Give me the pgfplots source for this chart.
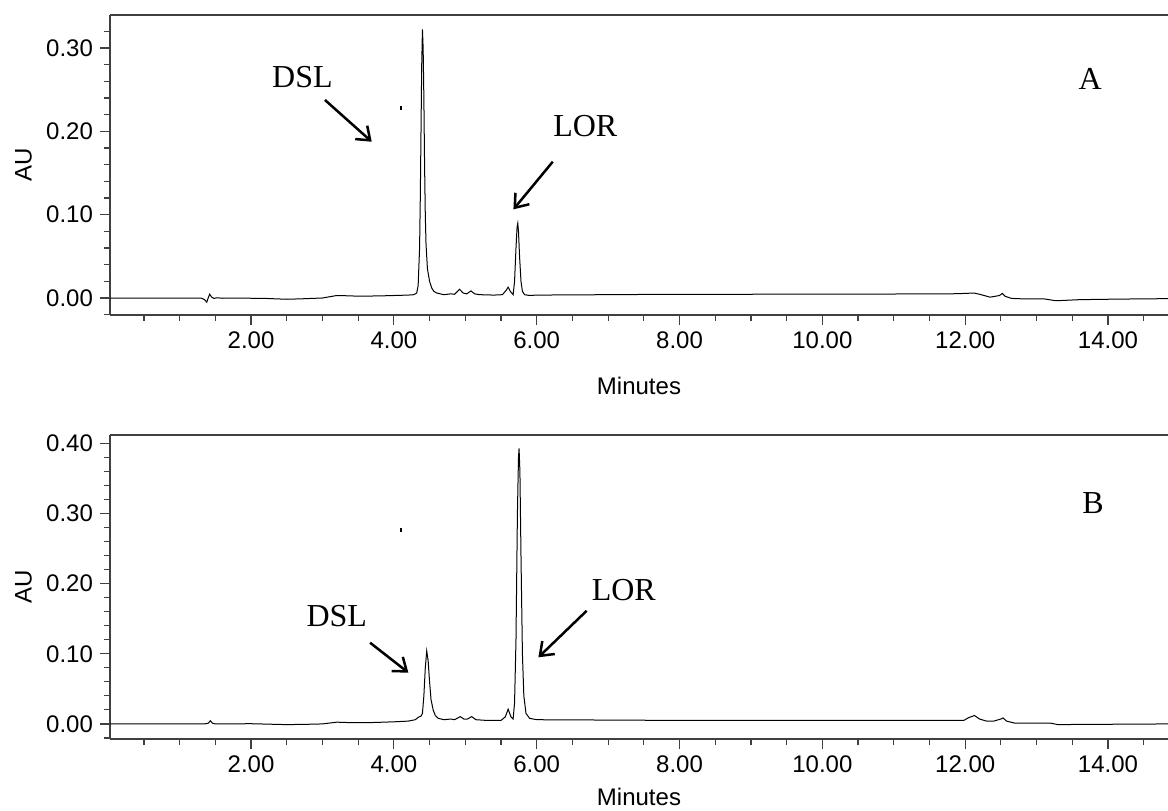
\documentclass[border=0pt]{standalone}
\usepackage{fontspec}
\setmainfont{Liberation Serif}
\newfontfamily\arial{Liberation Sans}
\usepackage{pgfplots}
\pgfplotsset{compat=1.18}
\usetikzlibrary{arrows.meta}

\pgfplotsset{
  chrom/.style={
    scale only axis,
    width=529pt,
    axis x line*=box,
    axis y line*=left,
    xtick pos=bottom,
    ytick pos=left,
    tick align=outside,
    major tick length=5pt,
    minor tick length=3pt,
    every tick/.style={black!75, line width=0.6pt},
    every minor tick/.style={black!75, line width=0.6pt},
    axis line style={black!75, line width=0.6pt},
    xmin=0.025, xmax=14.84,
    xtick={2,4,6,8,10,12,14},
    minor xtick={0.5,1,1.5,2.5,3,3.5,4.5,5,5.5,6.5,7,7.5,8.5,9,9.5,10.5,11,11.5,12.5,13,13.5,14.5},
    scaled y ticks=false,
    scaled x ticks=false,
    /pgf/number format/assume math mode=true,
    ticklabel style={font=\arial\fontsize{12}{14}\selectfont},
    xticklabel style={/pgf/number format/.cd, fixed, fixed zerofill, precision=2},
    yticklabel style={/pgf/number format/.cd, fixed, fixed zerofill, precision=2},
    label style={font=\arial\fontsize{12}{14}\selectfont},
    ylabel={AU},
    xlabel={Minutes},
    ylabel style={at={(axis description cs:-0.0818,0.5)}, anchor=center, rotate=0},
    clip=true,
  },
}

\begin{document}
\begin{tikzpicture}
\path[use as bounding box] (0,0) rectangle (584pt,405pt);

% ---------------- Panel A ----------------
\begin{axis}[chrom,
  at={(55pt,247.5pt)}, anchor=south west,
  height=150pt,
  ymin=-0.0204, ymax=0.3397,
  ytick={0,0.1,0.2,0.3},
  minor ytick={-0.02,0.02,0.04,0.06,0.08,0.12,0.14,0.16,0.18,0.22,0.24,0.26,0.28,0.32,0.34},
  xlabel style={at={(axis description cs:0.5,-0.2367)}, anchor=center},
]
\addplot[black, line width=0.5pt] coordinates {
(0.02,0.000) (1.30,0.000) (1.35,-0.002) (1.38,-0.005) (1.40,0.000) (1.42,0.0045)
(1.45,0.001) (1.48,-0.0005) (1.52,0.0003) (1.6,-0.0003) (1.8,0.000) (2.0,-0.0003)
(2.2,-0.0005) (2.5,-0.0015) (2.7,-0.001) (3.0,0.000) (3.1,0.0015) (3.2,0.003)
(3.3,0.0028) (3.5,0.0022) (3.8,0.0025) (4.0,0.003) (4.2,0.0035) (4.28,0.004)
(4.32,0.006) (4.34,0.015) (4.36,0.06) (4.37,0.12) (4.38,0.20) (4.39,0.28)
(4.40,0.3225) (4.41,0.30) (4.42,0.24) (4.43,0.16) (4.44,0.10) (4.45,0.065)
(4.47,0.035) (4.50,0.020) (4.53,0.012) (4.56,0.008) (4.60,0.006) (4.70,0.004)
(4.80,0.005) (4.85,0.0045) (4.92,0.0105) (4.97,0.006) (5.02,0.005) (5.08,0.0085)
(5.13,0.005) (5.2,0.004) (5.4,0.0035) (5.52,0.004) (5.57,0.009) (5.60,0.013)
(5.63,0.008) (5.67,0.004) (5.69,0.02) (5.71,0.06) (5.725,0.085) (5.735,0.0897)
(5.745,0.08) (5.76,0.05) (5.78,0.02) (5.80,0.008) (5.83,0.004) (5.9,0.003)
(6.0,0.0035) (7.0,0.004) (8.0,0.0045) (9.0,0.0045) (10.0,0.0048) (11.0,0.0048)
(11.8,0.005) (12.0,0.0055) (12.12,0.006) (12.2,0.0045) (12.35,0.001) (12.48,0.003)
(12.52,0.0055) (12.56,0.002) (12.65,-0.0005) (12.8,-0.001) (13.1,-0.001) (13.25,-0.003)
(13.35,-0.003) (13.6,-0.002) (14.0,-0.0015) (14.5,-0.001) (14.85,-0.0008)
};
\node[font=\fontsize{16}{18}\selectfont, anchor=base] at (axis cs:2.72,0.253) {DSL};
\draw[line width=1.25pt, -{Straight Barb[length=6pt,width=9pt]}] (axis cs:3.035,0.2377) -- (axis cs:3.69,0.1876);
\node[font=\fontsize{16}{18}\selectfont, anchor=base] at (axis cs:6.68,0.1936) {LOR};
\draw[line width=1.25pt, -{Straight Barb[length=6pt,width=9pt]}] (axis cs:6.225,0.1636) -- (axis cs:5.674,0.1064);
\node[font=\fontsize{16}{18}\selectfont, anchor=base] at (axis cs:13.75,0.25) {A};
\draw[line width=0.6pt] (axis cs:4.10,0.2305) -- (axis cs:4.10,0.2257);
\end{axis}

% ---------------- Panel B ----------------
\begin{axis}[chrom,
  at={(55pt,35.5pt)}, anchor=south west,
  height=152pt,
  ymin=-0.0215, ymax=0.412,
  ytick={0,0.1,0.2,0.3,0.4},
  minor ytick={-0.02,0.02,0.04,0.06,0.08,0.12,0.14,0.16,0.18,0.22,0.24,0.26,0.28,0.32,0.34,0.36,0.38},
  xlabel style={at={(axis description cs:0.5,-0.19)}, anchor=center},
]
\addplot[black, line width=0.5pt] coordinates {
(0.02,0.000) (1.35,0.000) (1.40,0.001) (1.43,0.0045) (1.46,0.001) (1.5,0.000)
(2.0,0.0003) (2.5,-0.001) (2.8,-0.0005) (3.0,0.000) (3.2,0.0025) (3.35,0.002)
(3.7,0.002) (4.0,0.003) (4.2,0.004) (4.3,0.006) (4.35,0.010) (4.38,0.011)
(4.40,0.015) (4.42,0.04) (4.44,0.08) (4.46,0.104) (4.48,0.09) (4.50,0.06)
(4.52,0.035) (4.55,0.02) (4.58,0.012) (4.62,0.008) (4.7,0.006) (4.8,0.007)
(4.85,0.006) (4.93,0.0104) (4.98,0.007) (5.03,0.007) (5.09,0.0104) (5.15,0.006)
(5.3,0.005) (5.5,0.005) (5.56,0.010) (5.60,0.021) (5.64,0.010) (5.67,0.007)
(5.69,0.03) (5.71,0.12) (5.73,0.30) (5.745,0.38) (5.753,0.393) (5.765,0.36)
(5.78,0.24) (5.80,0.10) (5.82,0.04) (5.85,0.015) (5.9,0.008) (6.0,0.006)
(7.0,0.0055) (8.0,0.005) (9.0,0.005) (10.0,0.005) (11.0,0.005) (11.8,0.005)
(11.98,0.005) (12.05,0.009) (12.13,0.012) (12.2,0.007) (12.3,0.004) (12.4,0.004)
(12.5,0.007) (12.53,0.0085) (12.58,0.004) (12.7,0.001) (13.0,0.001) (13.2,0.001)
(13.3,-0.001) (13.5,-0.0008) (14.0,-0.0005) (14.85,0.000)
};
\node[font=\fontsize{16}{18}\selectfont, anchor=base] at (axis cs:3.20,0.1386) {DSL};
\draw[line width=1.25pt, -{Straight Barb[length=6pt,width=9pt]}] (axis cs:3.667,0.1158) -- (axis cs:4.203,0.0731);
\node[font=\fontsize{16}{18}\selectfont, anchor=base] at (axis cs:7.22,0.1766) {LOR};
\draw[line width=1.25pt, -{Straight Barb[length=6pt,width=9pt]}] (axis cs:6.70,0.1614) -- (axis cs:6.024,0.0950);
\node[font=\fontsize{16}{18}\selectfont, anchor=base] at (axis cs:13.79,0.30) {B};
\draw[line width=0.6pt] (axis cs:4.10,0.279) -- (axis cs:4.10,0.2735);
\end{axis}
\end{tikzpicture}
\end{document}
